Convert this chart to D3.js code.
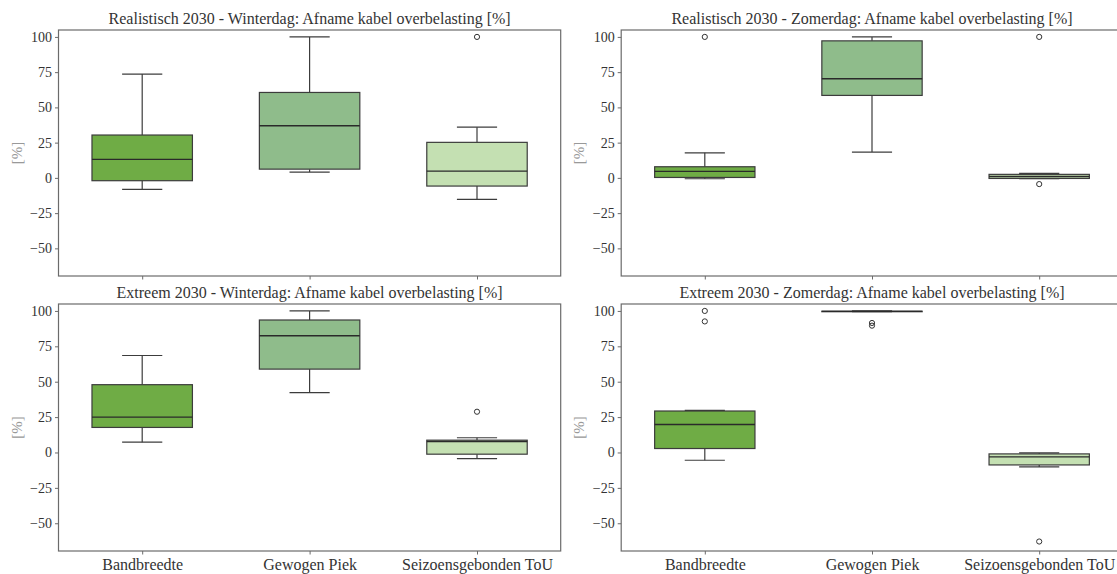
<!DOCTYPE html>
<html><head><meta charset="utf-8">
<script src="https://cdn.jsdelivr.net/npm/d3@7"></script>
<style>body{margin:0;background:#fff}svg{display:block}text{font-family:"Liberation Serif","Times New Roman",serif}</style>
</head><body><svg id="c" width="1117" height="574"></svg>
<script>
const categories = ["Bandbreedte", "Gewogen Piek", "Seizoensgebonden ToU"];
const boxColors = ["#6fac45", "#8fbc8b", "#c4e0b2"];
const yTicks = [-50, -25, 0, 25, 50, 75, 100];
const titles = [
  "Realistisch 2030 - Winterdag: Afname kabel overbelasting [%]",
  "Realistisch 2030 - Zomerdag: Afname kabel overbelasting [%]",
  "Extreem 2030 - Winterdag: Afname kabel overbelasting [%]",
  "Extreem 2030 - Zomerdag: Afname kabel overbelasting [%]"
];
const yLabel = "[%]";
// each row: [whisker low, Q1, median, Q3, whisker high]
const realWinter = [[-8.2, -2.0, 13.1, 30.4, 73.6], [4.1, 6.2, 37.0, 60.6, 100], [-15.3, -5.8, 4.8, 25.2, 36.0]];
const realWinterOut = [[], [], [100]];
const realSummer = [[-0.6, 0.3, 4.6, 7.9, 17.8], [18.3, 58.5, 70.3, 97.2, 100], [-0.6, -0.4, 1.0, 2.5, 3.2]];
const realSummerOut = [[100], [], [100, -4.4]];
const extWinter = [[7.3, 17.7, 25.0, 47.9, 68.5], [42.3, 58.9, 82.5, 93.6, 100], [-4.3, -1.2, 7.8, 8.7, 10.4]];
const extWinterOut = [[], [], [28.8]];
const extSummer = [[-5.5, 2.8, 19.8, 29.3, 29.8], [99.5, 99.6, 99.7, 99.8, 100], [-10.2, -8.8, -3.1, -1.0, -0.3]];
const extSummerOut = [[100, 92.6], [91.5, 89.6], [-62.9]];

const panels = [
  {title: titles[0], stats: realWinter, out: realWinterOut, x0: 58.5, x1: 560.7, y0: 30, y1: 276, labels: false},
  {title: titles[1], stats: realSummer, out: realSummerOut, x0: 621.2, x1: 1122.8, y0: 30, y1: 276, labels: false},
  {title: titles[2], stats: extWinter, out: extWinterOut, x0: 58.5, x1: 560.7, y0: 304, y1: 551, labels: true},
  {title: titles[3], stats: extSummer, out: extSummerOut, x0: 621.2, x1: 1122.8, y0: 304, y1: 551, labels: true}
];

const svg = d3.select("#c");
const frameCol = "#6b6b6b", edgeCol = "#3c3c3c";
const FF = '"Liberation Serif","Times New Roman",serif';

panels.forEach(p => {
  const x = d3.scaleLinear().domain([-0.5, 2.5]).range([p.x0, p.x1]);
  const y = d3.scaleLinear().domain([-69.6, 104.9]).range([p.y1, p.y0]);
  const band = x(1) - x(0);
  const bw = band * 0.6, cw = band * 0.24;
  const g = svg.append("g");

  // y axis
  const ya = g.append("g").attr("transform", `translate(${p.x0},0)`)
    .call(d3.axisLeft(y).tickValues(yTicks).tickSize(3.5).tickPadding(3)
      .tickFormat(d => d < 0 ? "\u2212" + Math.abs(d) : String(d)))
    .attr("font-family", FF);
  ya.select(".domain").remove();
  ya.selectAll("line").attr("stroke", frameCol).attr("stroke-width", 1);
  ya.selectAll("text").attr("font-size", 14).attr("fill", "#333");

  // x axis
  const xa = g.append("g").attr("transform", `translate(0,${p.y1})`)
    .call(d3.axisBottom(x).tickValues([0, 1, 2]).tickSize(3.5).tickPadding(4)
      .tickFormat(i => p.labels ? categories[i] : ""))
    .attr("font-family", FF);
  xa.select(".domain").remove();
  xa.selectAll("line").attr("stroke", frameCol).attr("stroke-width", 1);
  xa.selectAll("text").attr("font-size", 16).attr("fill", "#333");

  // boxes
  p.stats.forEach((s, i) => {
    const cx = x(i);
    const [lo, q1, med, q3, hi] = s;
    const bg = g.append("g");
    bg.append("line").attr("x1", cx).attr("x2", cx).attr("y1", y(q3)).attr("y2", y(hi)).attr("stroke", edgeCol).attr("stroke-width", 1.2);
    bg.append("line").attr("x1", cx).attr("x2", cx).attr("y1", y(q1)).attr("y2", y(lo)).attr("stroke", edgeCol).attr("stroke-width", 1.2);
    bg.append("line").attr("x1", cx - cw / 2).attr("x2", cx + cw / 2).attr("y1", y(hi)).attr("y2", y(hi)).attr("stroke", edgeCol).attr("stroke-width", 1.2);
    bg.append("line").attr("x1", cx - cw / 2).attr("x2", cx + cw / 2).attr("y1", y(lo)).attr("y2", y(lo)).attr("stroke", edgeCol).attr("stroke-width", 1.2);
    bg.append("rect").attr("x", cx - bw / 2).attr("width", bw)
      .attr("y", y(q3)).attr("height", Math.max(0.5, y(q1) - y(q3)))
      .attr("fill", boxColors[i]).attr("stroke", edgeCol).attr("stroke-width", 1.2);
    bg.append("line").attr("x1", cx - bw / 2).attr("x2", cx + bw / 2).attr("y1", y(med)).attr("y2", y(med)).attr("stroke", "#2a2a2a").attr("stroke-width", 1.4);
    p.out[i].forEach(v => {
      bg.append("circle").attr("cx", cx).attr("cy", y(v)).attr("r", 2.6)
        .attr("fill", "none").attr("stroke", "#333").attr("stroke-width", 1);
    });
  });

  // frame
  g.append("rect").attr("x", p.x0).attr("y", p.y0).attr("width", p.x1 - p.x0).attr("height", p.y1 - p.y0)
    .attr("fill", "none").attr("stroke", frameCol).attr("stroke-width", 1.2);

  // title
  g.append("text").attr("x", (p.x0 + p.x1) / 2).attr("y", p.y0 - 6)
    .attr("text-anchor", "middle").attr("font-size", 16).attr("fill", "#333").text(p.title);

  // y label
  g.append("text").attr("transform", `translate(${p.x0 - 37},${(p.y0 + p.y1) / 2}) rotate(-90)`)
    .attr("text-anchor", "middle").attr("font-size", 15).attr("fill", "#999").text(yLabel);
});
</script></body></html>
